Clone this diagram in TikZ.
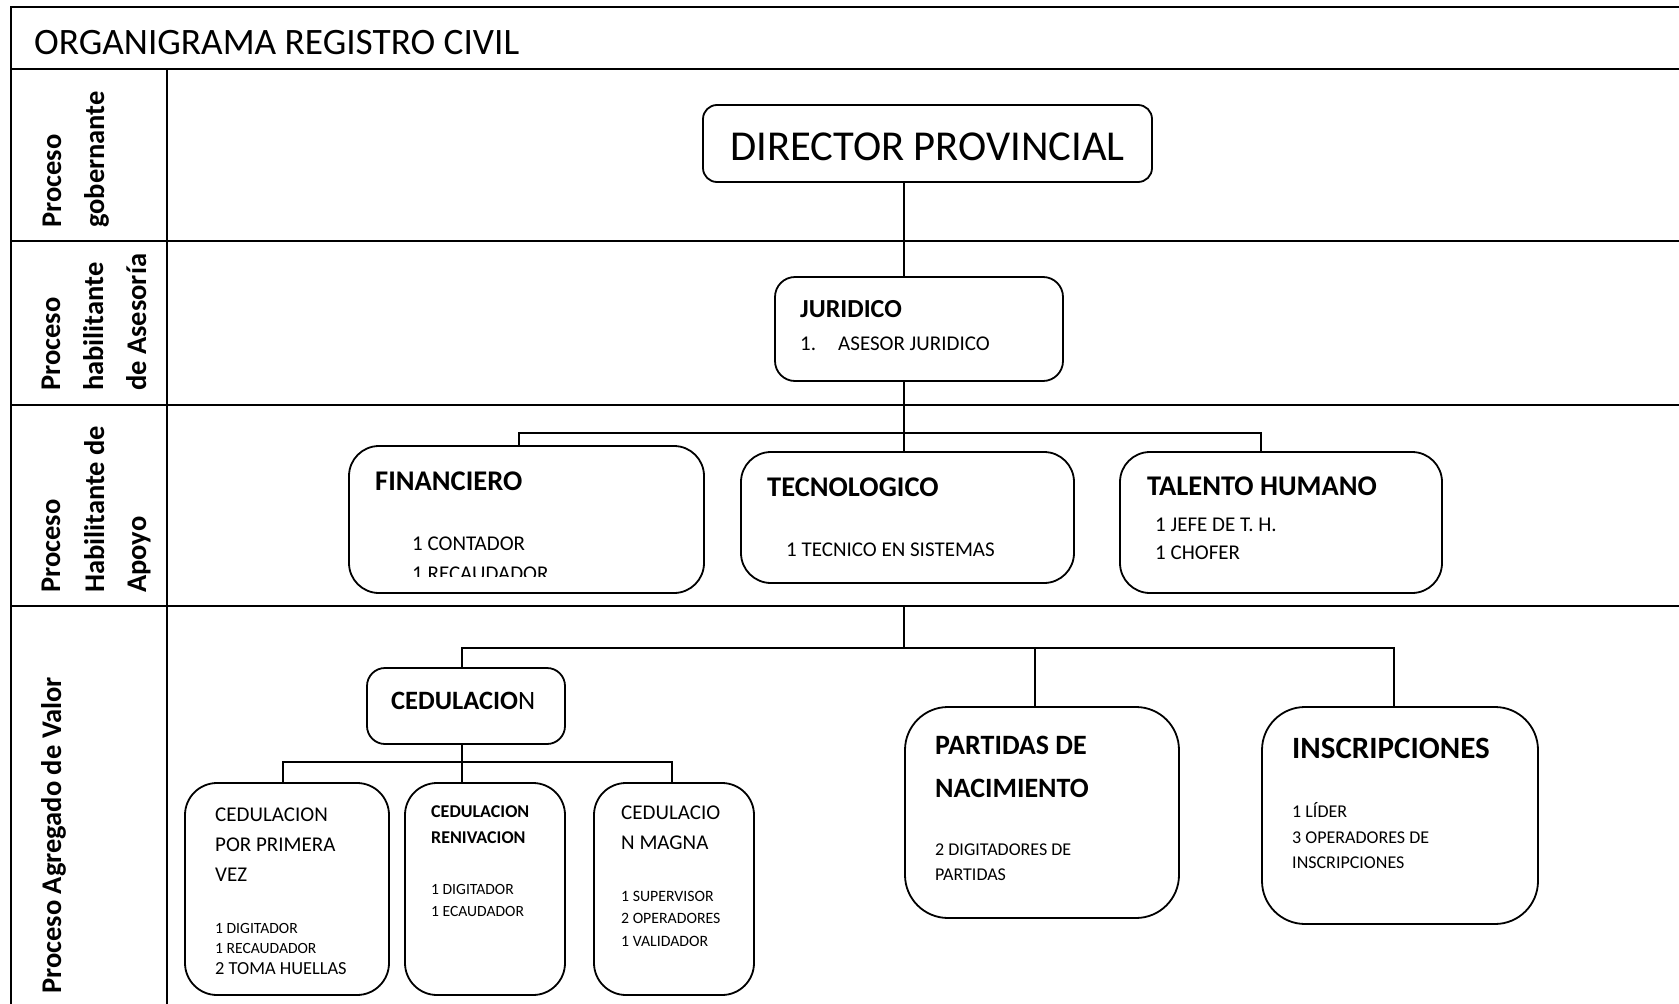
\documentclass[tikz,border=0pt]{standalone}
\usepackage{fontspec}
\setmainfont{Carlito}
\newcommand\myfs[1]{\fontsize{#1pt}{#1pt}\selectfont}
\begin{document}
\begin{tikzpicture}[x=1pt,y=-1pt,
  frame/.style={line width=1.8pt, line cap=rect},
  link/.style={line width=1.8pt},
  box/.style={draw, line width=1.8pt, rounded corners=#1, inner sep=0pt},
  txt/.style={anchor=base west, inner sep=0pt},
  ctxt/.style={anchor=base, inner sep=0pt},
  lbl/.style={rotate=90, anchor=base west, inner sep=0pt, font=\bfseries\myfs{28.5}}]
\useasboundingbox (0,0) rectangle (1679,1004);
% ---------- frame ----------
\draw[frame] (1679,7) -- (11,7) -- (11,1004);
\draw[frame] (11,69) -- (1679,69);
\draw[frame] (11,241) -- (1679,241);
\draw[frame] (11,405) -- (1679,405);
\draw[frame] (11,606) -- (1679,606);
\draw[frame] (167,69) -- (167,1004);
\node[txt, font=\myfs{37.3}] (title) at (34,54) {ORGANIGRAMA REGISTRO CIVIL};
% ---------- row labels ----------
\node[lbl] (l1a) at (61,228) {Proceso};
\node[lbl] (l1b) at (104,228) {gobernante};
\node[lbl] (l2a) at (60,391) {Proceso};
\node[lbl] (l2b) at (103,391) {habilitante};
\node[lbl] (l2c) at (146,391) {de Asesoría};
\node[lbl] (l3a) at (60,593) {Proceso};
\node[lbl] (l3b) at (104,593) {Habilitante de};
\node[lbl] (l3c) at (146,593) {Apoyo};
\node[lbl] (l4a) at (61,994) {Proceso Agregado de Valor};
% ---------- boxes ----------
\node[box=14, minimum width=449pt, minimum height=77pt] (dir) at (927.5,143.5) {};
\node[box=20, minimum width=288pt, minimum height=104pt] (jur) at (919,329) {};
\node[box=30, minimum width=355pt, minimum height=147pt] (fin) at (526.5,519.5) {};
\node[box=30, minimum width=333pt, minimum height=131pt] (tec) at (907.5,517.5) {};
\node[box=30, minimum width=322pt, minimum height=141pt] (tal) at (1281,522.5) {};
\node[box=18, minimum width=198pt, minimum height=76pt] (ced) at (466,706) {};
\node[box=43, minimum width=274pt, minimum height=211pt] (par) at (1042,812.5) {};
\node[box=43, minimum width=276pt, minimum height=217pt] (ins) at (1400,815.5) {};
\node[box=32, minimum width=204pt, minimum height=212pt] (c1) at (287,889) {};
\node[box=32, minimum width=160pt, minimum height=212pt] (c2) at (485,889) {};
\node[box=32, minimum width=160pt, minimum height=212pt] (c3) at (674,889) {};
% ---------- connectors ----------
\coordinate (t1) at (904,0);
\coordinate (b3L) at (519,433);
\coordinate (b3R) at (1261,433);
\coordinate (r4) at (904,606);
\coordinate (b4L) at (462,648);
\coordinate (b4M) at (1035,648);
\coordinate (b4R) at (1394,648);
\coordinate (k1) at (283,762);
\coordinate (k2) at (462,762);
\coordinate (k3) at (672,762);
\draw[link] (dir.south -| t1) -- (jur.north -| t1);
\draw[link] (jur.south -| t1) -- (tec.north -| t1);
\draw[link] (fin.north -| b3L) -- (b3L) -- (b3R) -- (tal.north -| b3R);
\draw[link] (r4) -- (r4 |- b4L);
\draw[link] (ced.north -| b4L) -- (b4L) -- (b4R) -- (ins.north -| b4R);
\draw[link] (b4M) -- (par.north -| b4M);
\draw[link] (ced.south -| k2) -- (c2.north -| k2);
\draw[link] (c1.north -| k1) -- (k1) -- (k3) -- (c3.north -| k3);
% ---------- texts ----------
\node[ctxt, font=\myfs{42.6}] (tdir) at (927.5,160) {DIRECTOR PROVINCIAL};
\node[txt, font=\bfseries\myfs{26}] (tjur) at (800,317) {JURIDICO};
\node[txt, font=\myfs{21}] (tjur1) at (800,350) {1.};
\node[txt, font=\myfs{21}] (tjur2) at (838,350) {ASESOR JURIDICO};
\node[txt, font=\bfseries\myfs{28.5}] (tfin) at (375,490) {FINANCIERO};
\node[txt, font=\myfs{21}] (tfin1) at (412,550) {1 CONTADOR};
\begin{scope}
\clip (340,540) rectangle (710,576);
\node[txt, font=\myfs{21}] (tfin2) at (412,580) {1 RECAUDADOR};
\end{scope}
\node[txt, font=\bfseries\myfs{28.5}] (ttec) at (767,496) {TECNOLOGICO};
\node[txt, font=\myfs{21}] (ttec1) at (786,556) {1 TECNICO EN SISTEMAS};
\node[txt, font=\bfseries\myfs{28.5}] (ttal) at (1147,495) {TALENTO HUMANO};
\node[txt, font=\myfs{21}] (ttal1) at (1155,531) {1 JEFE DE T. H.};
\node[txt, font=\myfs{21}] (ttal2) at (1155,559) {1 CHOFER};
\node[txt, font=\myfs{26.5}] (tced) at (391,709) {\textbf{CEDULACIO}N};
\node[txt, font=\myfs{21}] (tc1a) at (215,821) {CEDULACION};
\node[txt, font=\myfs{21}] (tc1b) at (215,851) {POR PRIMERA};
\node[txt, font=\myfs{21}] (tc1c) at (215,881) {VEZ};
\node[txt, font=\myfs{15.6}] (tc1d) at (215,933) {1 DIGITADOR};
\node[txt, font=\myfs{15.6}] (tc1e) at (215,953) {1 RECAUDADOR};
\node[txt, font=\myfs{18.4}] (tc1f) at (215,974) {2 TOMA HUELLAS};
\node[txt, font=\bfseries\myfs{18}] (tc2a) at (431,817) {CEDULACION};
\node[txt, font=\bfseries\myfs{18}] (tc2b) at (431,843) {RENIVACION};
\node[txt, font=\myfs{15.6}] (tc2c) at (431,894) {1 DIGITADOR};
\node[txt, font=\myfs{15.6}] (tc2d) at (431,916) {1 ECAUDADOR};
\node[txt, font=\myfs{21}] (tc3a) at (621,819) {CEDULACIO};
\node[txt, font=\myfs{21}] (tc3b) at (621,849) {N MAGNA};
\node[txt, font=\myfs{15.8}] (tc3c) at (621,901) {1 SUPERVISOR};
\node[txt, font=\myfs{15.8}] (tc3d) at (621,923) {2 OPERADORES};
\node[txt, font=\myfs{15.8}] (tc3e) at (621,946) {1 VALIDADOR};
\node[txt, font=\bfseries\myfs{28}] (tpa) at (935,754) {PARTIDAS DE};
\node[txt, font=\bfseries\myfs{28}] (tpb) at (935,797) {NACIMIENTO};
\node[txt, font=\myfs{18}] (tpc) at (935,855) {2 DIGITADORES DE};
\node[txt, font=\myfs{18}] (tpd) at (935,880) {PARTIDAS};
\node[txt, font=\bfseries\myfs{31}] (tia) at (1292,758) {INSCRIPCIONES};
\node[txt, font=\myfs{18}] (tib) at (1292,817) {1 LÍDER};
\node[txt, font=\myfs{18}] (tic) at (1292,843) {3 OPERADORES DE};
\node[txt, font=\myfs{18}] (tid) at (1292,868) {INSCRIPCIONES};
\end{tikzpicture}
\end{document}
